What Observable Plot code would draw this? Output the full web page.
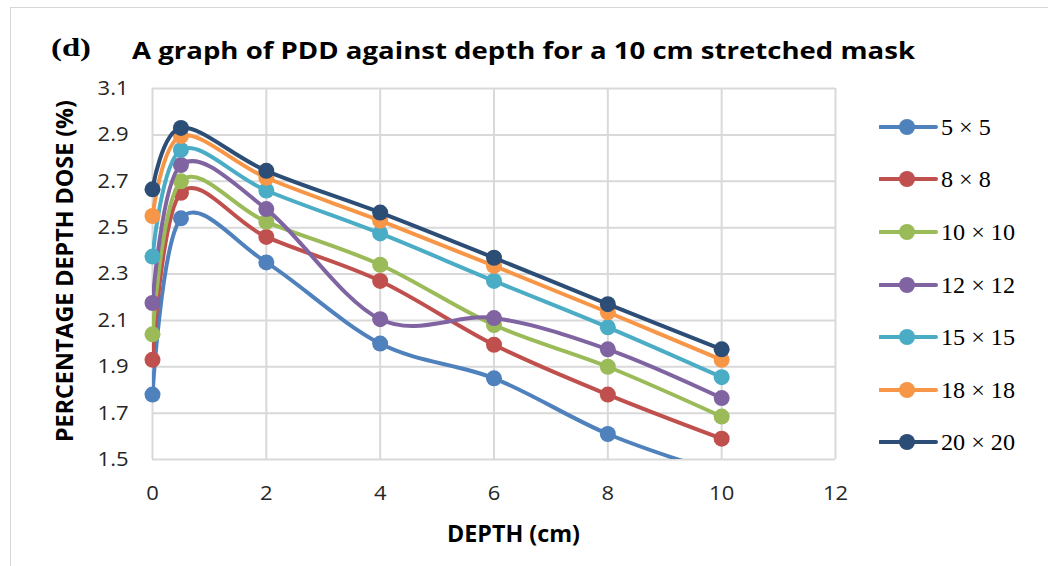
<!DOCTYPE html>
<html>
<head>
<meta charset="utf-8">
<script src="https://cdn.jsdelivr.net/npm/d3@7"></script>
<script src="https://cdn.jsdelivr.net/npm/@observablehq/plot@0.6"></script>
<style>
  html, body { margin: 0; padding: 0; background: #fff; }
  body { width: 1048px; height: 566px; overflow: hidden; position: relative; }
  #frame { position: absolute; left: 10px; top: 7px; width: 1200px; height: 700px;
           border-left: 1.5px solid #d6d6d6; border-top: 1.5px solid #d6d6d6; }
  #chart { position: absolute; left: 0; top: 0; }
  .t { position: absolute; white-space: nowrap; line-height: 1; transform-origin: left top; color: #000; }
  .sans { font-family: "Open Sans", sans-serif; font-weight: 700; }
  .serif { font-family: "Liberation Serif", "DejaVu Serif", serif; }
</style>
</head>
<body>
<div id="frame"></div>
<div id="chart"></div>
<div id="panel" class="t serif" style="font-weight:700;font-size:26px;left:51px;top:35px;">(d)</div>
<div id="title" class="t sans" style="font-size:23px;left:132px;top:38.5px;">A graph of PDD against depth for a 10 cm stretched mask</div>
<div id="xlab" class="t sans" style="font-size:22.4px;left:447px;top:523px;">DEPTH (cm)</div>
<div id="ylab" class="t sans" style="font-size:24px;">PERCENTAGE DEPTH DOSE (%)</div>
<div id="legend"></div>
<script>
// ---- data ----
const depth = [0, 0.5, 2, 4, 6, 8, 10];
const fieldSizes = ["5 × 5", "8 × 8", "10 × 10", "12 × 12", "15 × 15", "18 × 18", "20 × 20"];
const pdd5x5   = [1.78, 2.54, 2.35, 2.00, 1.85, 1.61, 1.44];
const pdd8x8   = [1.93, 2.65, 2.46, 2.27, 1.995, 1.78, 1.59];
const pdd10x10 = [2.04, 2.70, 2.525, 2.34, 2.08, 1.90, 1.685];
const pdd12x12 = [2.175, 2.77, 2.58, 2.105, 2.11, 1.975, 1.765];
const pdd15x15 = [2.375, 2.835, 2.66, 2.475, 2.27, 2.07, 1.855];
const pdd18x18 = [2.55, 2.895, 2.715, 2.53, 2.335, 2.135, 1.93];
const pdd20x20 = [2.665, 2.93, 2.745, 2.565, 2.37, 2.17, 1.975];
const seriesColors = ["#4F81BD", "#C0504D", "#9BBB59", "#8064A2", "#4BACC6", "#F79646", "#2C4D75"];
const xTicks = [0, 2, 4, 6, 8, 10, 12];
const yTicks = [1.5, 1.7, 1.9, 2.1, 2.3, 2.5, 2.7, 2.9, 3.1];

const seriesValues = [pdd5x5, pdd8x8, pdd10x10, pdd12x12, pdd15x15, pdd18x18, pdd20x20];
const rows = fieldSizes.flatMap((s, i) => depth.map((d, j) => ({series: s, depth: d, pdd: seriesValues[i][j]})));
const yMin = yTicks[0], yMax = yTicks[yTicks.length - 1];

const seriesMarks = fieldSizes.flatMap(s => {
  const sub = rows.filter(r => r.series === s);
  return [
    Plot.line(sub, {x: "depth", y: "pdd", stroke: "series", strokeWidth: 4, curve: "cardinal", clip: true, strokeLinecap: "round"}),
    Plot.dot(sub, {x: "depth", y: "pdd", fill: "series", r: 8, filter: d => d.pdd >= yMin && d.pdd <= yMax})
  ];
});

const plot = Plot.plot({
  width: 1048,
  height: 566,
  marginLeft: 152,
  marginRight: 213,
  marginTop: 88,
  marginBottom: 107,
  style: {fontFamily: "'Open Sans', sans-serif", fontSize: "20px", color: "#262626", background: "transparent", overflow: "visible"},
  x: {domain: [0, 12], ticks: xTicks, label: null},
  y: {domain: [yMin, yMax], ticks: yTicks, label: null},
  color: {domain: fieldSizes, range: seriesColors},
  marks: [
    Plot.gridX(xTicks, {stroke: "#d9d9d9", strokeWidth: 2, strokeOpacity: 1}),
    Plot.gridY(yTicks, {stroke: "#d9d9d9", strokeWidth: 2, strokeOpacity: 1}),
    Plot.axisX(xTicks, {tickSize: 0, tickPadding: 26, fontSize: 20, fill: "#262626", label: null}),
    Plot.axisY(yTicks, {tickSize: 0, tickPadding: 24, fontSize: 20, fill: "#262626", label: null, tickFormat: d => d.toFixed(1)}),
    ...seriesMarks
  ]
});
document.getElementById("chart").appendChild(plot);

// widen tick labels slightly to match reference proportions
plot.querySelectorAll('g[aria-label$="tick label"] text').forEach(t => {
  const L = t.getComputedTextLength();
  t.setAttribute("textLength", (L * 1.1).toFixed(2));
  t.setAttribute("lengthAdjust", "spacingAndGlyphs");
});

// legend
const legend = document.getElementById("legend");
const legFont = 24;
fieldSizes.forEach((s, i) => {
  const cy = 126.7 + i * 52.6;
  const sw = document.createElementNS("http://www.w3.org/2000/svg", "svg");
  sw.setAttribute("width", 60); sw.setAttribute("height", 20);
  sw.style.position = "absolute"; sw.style.left = "879px"; sw.style.top = (cy - 10) + "px";
  sw.innerHTML = `<line x1="1" y1="10" x2="57" y2="10" stroke="${seriesColors[i]}" stroke-width="4" stroke-linecap="round"/>` +
                 `<circle cx="28" cy="10" r="8" fill="${seriesColors[i]}"/>`;
  legend.appendChild(sw);
  const lab = document.createElement("div");
  lab.className = "t serif legtext";
  lab.style.fontSize = legFont + "px";
  lab.style.left = "941px";
  lab.style.top = (cy + 0.34 * legFont - 0.8375 * legFont) + "px";
  lab.textContent = s;
  legend.appendChild(lab);
});

// fit text widths
function fitX(el, target) {
  const w = el.getBoundingClientRect().width;
  el.style.transform = `scaleX(${target / w})`;
}
fitX(document.getElementById("panel"), 40);
fitX(document.getElementById("title"), 783);
fitX(document.getElementById("xlab"), 133);
const legTexts = document.querySelectorAll(".legtext");
const k = 74 / legTexts[2].getBoundingClientRect().width;
legTexts.forEach(el => el.style.transform = `scaleX(${k})`);

const yl = document.getElementById("ylab");
const yw = yl.getBoundingClientRect().width;
yl.style.left = "64px"; yl.style.top = "271px";
yl.style.transformOrigin = "center center";
yl.style.transform = `translate(-50%, -50%) rotate(-90deg) scaleX(${342 / yw})`;
</script>
</body>
</html>
